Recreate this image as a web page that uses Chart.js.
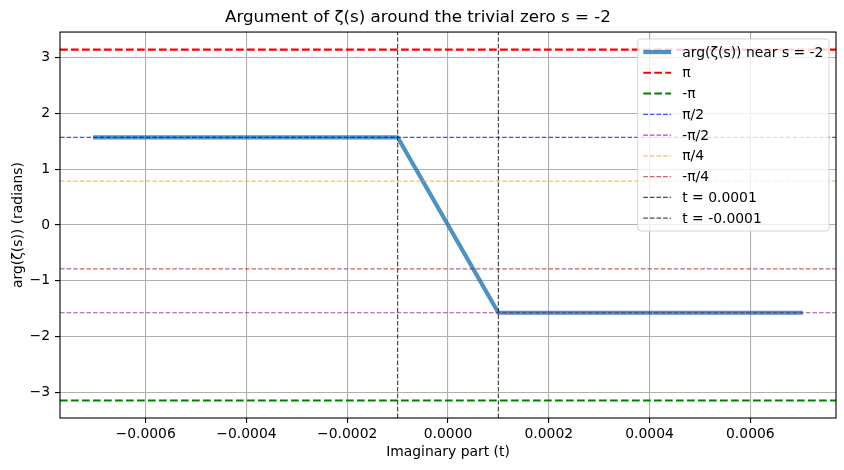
<!DOCTYPE html>
<html>
<head>
<meta charset="utf-8">
<script src="https://cdn.jsdelivr.net/npm/chart.js@4.4.0/dist/chart.umd.min.js"></script>
<style>
  html, body { margin: 0; padding: 0; background: #fff; }
</style>
</head>
<body>
<canvas id="chart" width="844" height="470"></canvas>
<script>
// data
const tValues = [-0.0007, -0.0001, 0.0001, 0.0007];
const argValues = [1.5708, 1.5708, -1.5708, -1.5708];
const hLineLabels = ['π', '-π', 'π/2', '-π/2', 'π/4', '-π/4'];
const hLineValues = [3.1416, -3.1416, 1.5708, -1.5708, 0.7854, -0.7854];
const vLineLabels = ['t = 0.0001', 't = -0.0001'];
const vLineValues = [0.0001, -0.0001];
const xTicks = [-0.0006, -0.0004, -0.0002, 0, 0.0002, 0.0004, 0.0006];
const yTicks = [-3, -2, -1, 0, 1, 2, 3];
const xLimits = [-0.00077, 0.00077];
const yLimits = [-3.4558, 3.4558];

const FONT = 'DejaVu Sans';
const FS = 13.9;

const thick = [7.7, 3.3];
const thin = [4.6, 2.0];
const hLineStyles = [
    { color: '#ff0000', width: 2.1, dash: thick },
    { color: '#008000', width: 2.1, dash: thick },
    { color: 'rgba(0,0,255,0.7)', width: 1.2, dash: thin },
    { color: 'rgba(128,0,128,0.7)', width: 1.2, dash: thin },
    { color: 'rgba(255,165,0,0.7)', width: 1.2, dash: thin },
    { color: 'rgba(165,42,42,0.7)', width: 1.2, dash: thin },
];
const vLineStyle = { color: 'rgba(0,0,0,0.7)', width: 1.2, dash: thin };

const datasets = [{
    label: 'arg(ζ(s)) near s = -2',
    data: tValues.map((t, i) => ({ x: t, y: argValues[i] })),
    borderColor: 'rgba(31,119,180,0.8)',
    borderWidth: 4.2,
    borderCapStyle: 'square',
    borderJoinStyle: 'round',
    borderDash: [],
}];

hLineValues.forEach((v, i) => {
    datasets.push({
        label: hLineLabels[i],
        data: [{ x: xLimits[0], y: v }, { x: xLimits[1], y: v }],
        borderColor: hLineStyles[i].color,
        borderWidth: hLineStyles[i].width,
        borderDash: hLineStyles[i].dash,
    });
});

vLineValues.forEach((v, i) => {
    datasets.push({
        label: vLineLabels[i],
        data: [{ x: v, y: yLimits[0] }, { x: v, y: yLimits[1] }],
        borderColor: vLineStyle.color,
        borderWidth: vLineStyle.width,
        borderDash: vLineStyle.dash,
    });
});

datasets.forEach((ds, i) => {
    ds.showLine = true;
    ds.pointRadius = 0;
    ds.pointHoverRadius = 0;
    ds.fill = false;
    ds.tension = 0;
    ds.order = -i;
});

const fmtMinus = (s) => s.replace('-', '\u2212');

// matplotlib-like frame and legend box
const framePlugin = {
    id: 'frame',
    afterDatasetsDraw(chart) {
        const { ctx, chartArea: a } = chart;
        ctx.save();
        ctx.strokeStyle = '#000';
        ctx.lineWidth = 1.1;
        ctx.strokeRect(a.left, a.top, a.right - a.left, a.bottom - a.top);
        ctx.restore();
    },
    afterDraw(chart) {
        const { ctx, chartArea: a } = chart;
        const sets = chart.data.datasets;
        ctx.save();
        ctx.font = `${FS}px "${FONT}"`;
        let maxW = 0;
        sets.forEach(ds => { maxW = Math.max(maxW, ctx.measureText(ds.label).width); });
        const pad = 0.4 * FS, handle = 2.0 * FS, textPad = 0.8 * FS;
        const rowH = 20.75, edge = 13;
        const w = pad + handle + textPad + maxW + pad;
        const h = edge * 2 + rowH * (sets.length - 1);
        const right = a.right - 7, top = a.top + 7;
        const left = right - w;
        const r = 3;
        ctx.beginPath();
        ctx.moveTo(left + r, top);
        ctx.arcTo(right, top, right, top + h, r);
        ctx.arcTo(right, top + h, left, top + h, r);
        ctx.arcTo(left, top + h, left, top, r);
        ctx.arcTo(left, top, right, top, r);
        ctx.closePath();
        ctx.fillStyle = 'rgba(255,255,255,0.8)';
        ctx.fill();
        ctx.strokeStyle = 'rgba(204,204,204,0.8)';
        ctx.lineWidth = 1;
        ctx.stroke();

        sets.forEach((ds, i) => {
            const y = top + edge + i * rowH;
            ctx.beginPath();
            ctx.setLineDash(ds.borderDash || []);
            ctx.lineCap = 'butt';
            ctx.strokeStyle = ds.borderColor;
            ctx.lineWidth = ds.borderWidth;
            ctx.moveTo(left + pad, y);
            ctx.lineTo(left + pad + handle, y);
            ctx.stroke();
            ctx.setLineDash([]);
            ctx.fillStyle = '#000';
            ctx.textBaseline = 'middle';
            ctx.textAlign = 'left';
            ctx.fillText(ds.label, left + pad + handle + textPad, y + 1);
        });
        ctx.restore();
    }
};

new Chart(document.getElementById('chart'), {
    type: 'scatter',
    data: { datasets },
    options: {
        responsive: false,
        animation: false,
        devicePixelRatio: 1,
        layout: { padding: { left: 0, right: 8, top: 0, bottom: 0 } },
        plugins: {
            legend: { display: false },
            tooltip: { enabled: false },
            title: {
                display: true,
                text: 'Argument of ζ(s) around the trivial zero s = -2',
                color: '#000',
                font: { family: FONT, size: 16.7, weight: 'normal', lineHeight: 1.2 },
                padding: { top: 8, bottom: 4 },
            },
        },
        scales: {
            x: {
                type: 'linear',
                min: xLimits[0],
                max: xLimits[1],
                afterBuildTicks: (s) => { s.ticks = xTicks.map(v => ({ value: v })); },
                afterFit: (s) => { s.height = 52; },
                ticks: {
                    color: '#000',
                    font: { family: FONT, size: FS },
                    padding: 3,
                    maxRotation: 0,
                    callback: (v) => fmtMinus(Number(v).toFixed(4)),
                },
                grid: {
                    color: '#b0b0b0',
                    lineWidth: 1.1,
                    tickColor: '#000',
                    tickLength: 5,
                    tickWidth: 1.1,
                },
                border: { display: false },
                title: {
                    display: true,
                    text: 'Imaginary part (t)',
                    color: '#000',
                    font: { family: FONT, size: FS },
                    padding: { top: 0, bottom: 9 },
                },
            },
            y: {
                type: 'linear',
                min: yLimits[0],
                max: yLimits[1],
                afterBuildTicks: (s) => { s.ticks = yTicks.map(v => ({ value: v })); },
                afterFit: (s) => { s.width = 60; },
                ticks: {
                    color: '#000',
                    font: { family: FONT, size: FS },
                    padding: 5,
                    callback: (v) => fmtMinus(String(v)),
                },
                grid: {
                    color: '#b0b0b0',
                    lineWidth: 1.1,
                    tickColor: '#000',
                    tickLength: 5,
                    tickWidth: 1.1,
                },
                border: { display: false },
                title: {
                    display: true,
                    text: 'arg(ζ(s)) (radians)',
                    color: '#000',
                    font: { family: FONT, size: FS },
                    padding: { top: 10, bottom: 0 },
                },
            },
        },
    },
    plugins: [framePlugin],
});
</script>
</body>
</html>
